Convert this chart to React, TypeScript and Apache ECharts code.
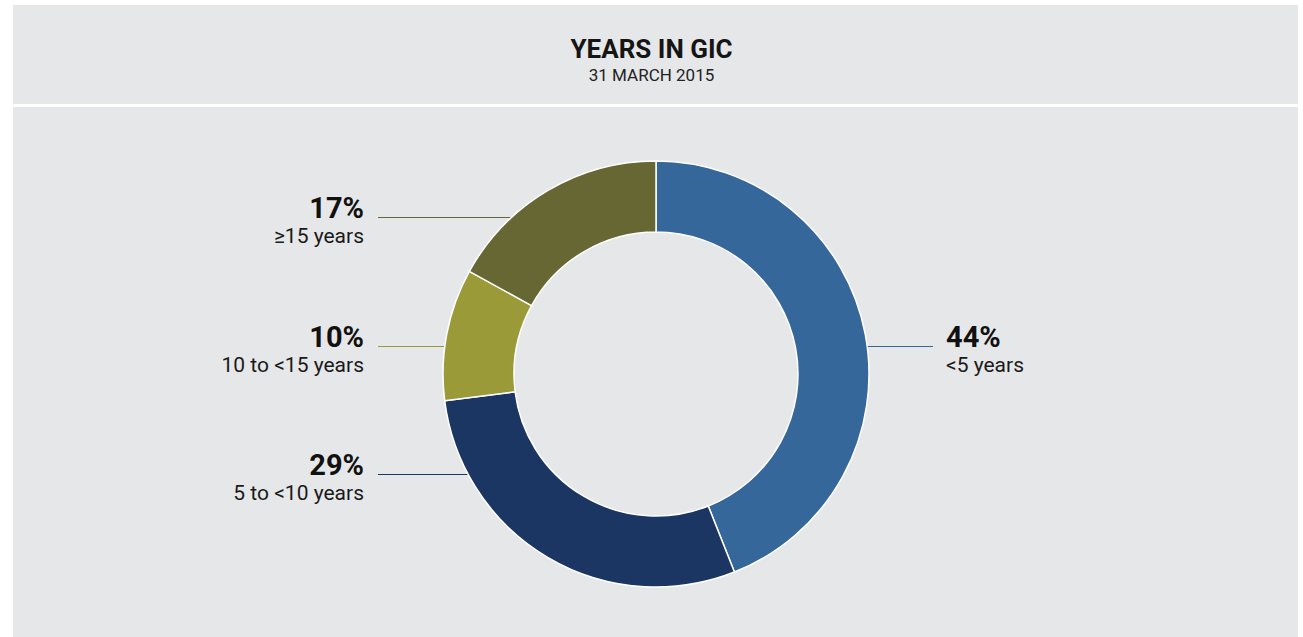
import React, { useEffect, useRef } from "react";
import * as echarts from "echarts";

const categories = ["<5 years", "5 to <10 years", "10 to <15 years", "≥15 years"];
const shares = [44, 29, 10, 17];
const titleText = "YEARS IN GIC";
const subtitleText = "31 MARCH 2015";

// styling / layout (not data)
const sliceColors = ["#35679a", "#1c3663", "#9a9a38", "#676733"];
const labelLineY = [346, 474, 346, 217];
const CX = 656;
const CY = 374;
const R_IN = 142;
const R_OUT = 213;
const PANEL = "#e6e7e9";

export default function App() {
  const ref = useRef<HTMLDivElement>(null);
  useEffect(() => {
    if (!ref.current) return;
    const chart = echarts.init(ref.current, null, { renderer: "svg" });
    const total = shares.reduce((a, b) => a + b, 0);
    let cum = 0;
    const isRight = shares.map((v) => {
      const mid = (cum + v / 2) / total;
      cum += v;
      return mid < 0.5;
    });
    chart.setOption({
      animation: false,
      backgroundColor: "#ffffff",
      graphic: {
        elements: [
          { type: "rect", z: -10, silent: true, shape: { x: 13, y: 5, width: 1285, height: 99 }, style: { fill: PANEL } },
          { type: "rect", z: -10, silent: true, shape: { x: 13, y: 107, width: 1285, height: 530 }, style: { fill: PANEL } },
        ],
      },
      title: {
        text: titleText,
        subtext: subtitleText,
        left: "center",
        top: 31,
        itemGap: 4,
        textStyle: { fontFamily: "Roboto, 'Liberation Sans', sans-serif", fontSize: 26, fontWeight: "bold", color: "#151515" },
        subtextStyle: { fontFamily: "Roboto, 'Liberation Sans', sans-serif", fontSize: 17, color: "#222222" },
      },
      series: [
        {
          type: "pie",
          center: [CX, CY],
          radius: [R_IN, R_OUT],
          startAngle: 90,
          clockwise: true,
          avoidLabelOverlap: false,
          emphasis: { disabled: true },
          itemStyle: { borderColor: "#ffffff", borderWidth: 1.5 },
          label: {
            show: true,
            position: "outside",
            formatter: (p: any) => `{p|${p.value}%}\n{n|${p.name}}`,
            rich: {
              p: {
                fontFamily: "Roboto, sans-serif",
                fontSize: 29,
                fontWeight: "bold",
                lineHeight: 30,
                color: "#111111",
              },
              n: {
                fontFamily: "Roboto, 'Liberation Sans', sans-serif",
                fontSize: 21,
                lineHeight: 26,
                color: "#1a1a1a",
              },
            },
          },
          labelLine: { show: true, lineStyle: { width: 1 } },
          labelLayout: (params: any) => {
            const i = params.dataIndex;
            const L = labelLineY[i];
            const dy = L - CY;
            const dx = Math.sqrt(R_OUT * R_OUT - dy * dy);
            const right = isRight[i];
            const edgeX = right ? CX + dx : CX - dx;
            const endX = right ? 933 : 378;
            const ly = L + 0.5;
            return {
              x: right ? 946 : 364,
              y: L - 24,
              align: right ? "left" : "right",
              verticalAlign: "top",
              labelLinePoints: [
                [edgeX, ly],
                [endX, ly],
                [endX, ly],
              ],
            };
          },
          data: categories.map((name, i) => ({
            name,
            value: shares[i],
            itemStyle: { color: sliceColors[i] },
          })),
        },
      ],
    });
    return () => chart.dispose();
  }, []);
  return (
    <div
      ref={ref}
      style={{ position: "absolute", left: 0, top: 0, width: 1303, height: 637 }}
    />
  );
}
